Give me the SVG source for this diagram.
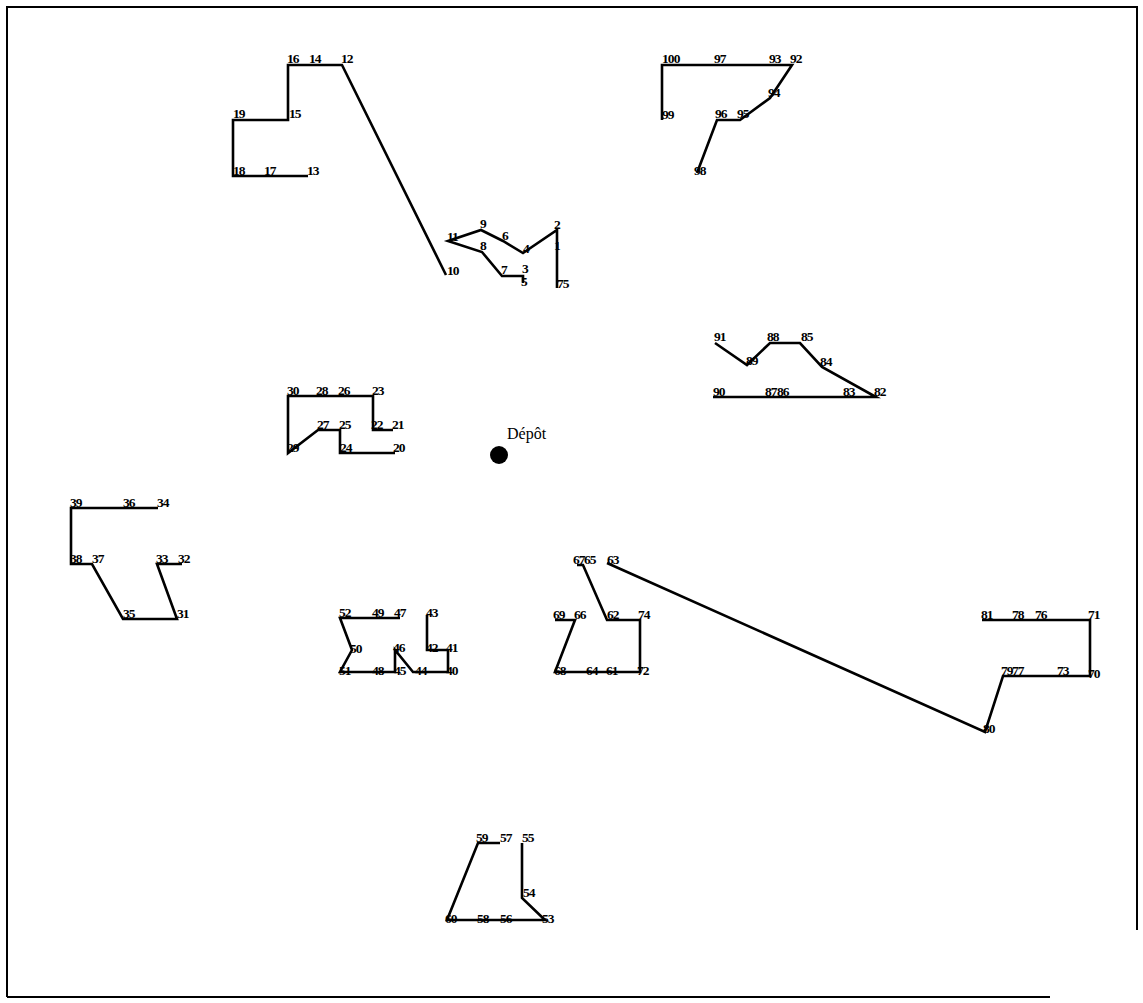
<svg xmlns="http://www.w3.org/2000/svg" width="1143" height="1003" viewBox="0 0 1143 1003">
<style>
.l{font-family:"Liberation Serif","DejaVu Serif",serif;font-size:13.5px;font-weight:bold;fill:#000;letter-spacing:-0.9px}
.r{fill:none;stroke:#000;stroke-width:2.6;stroke-linejoin:miter}
.dep{font-family:"Liberation Serif","DejaVu Serif",serif;font-size:16px;fill:#000}
.f{fill:none;stroke:#000;stroke-width:2}
</style>
<rect x="0" y="0" width="1143" height="1003" fill="#fff"/>
<g id="frame">
<polyline class="f" points="7,997 7,7 1137,7 1137,930"/>
<line class="f" x1="7" y1="997" x2="1050" y2="997"/>
</g>
<g id="connectors">
<polyline class="r" points="308,176 265,176 233,176 233,120 288,120 288,65 310,65 342,65 446,275"/>
<polyline class="r" points="523,283 523,276 502,276 482,252 448,241 481,230 503,241 523,253 557,230 557,248 557,288"/>
<polyline class="r" points="662,120 662,65 715,65 770,65 792,65 770,98 740,120 717,120 697,173"/>
<polyline class="r" points="715,343 747,365 770,343 800,343 822,367 876,397 845,397 777,397 767,397 713,397"/>
<polyline class="r" points="393,430 373,430 373,396 340,396 318,396 288,396 288,453 318,430 340,430 340,453 395,453"/>
<polyline class="r" points="182,564 157,564 177,619 123,619 92,564 71,564 71,508 125,508 158,508"/>
<polyline class="r" points="427,615 427,650 448,650 448,672 413,672 395,650 395,672 373,672 340,672 352,650 340,618 375,618 400,618"/>
<polyline class="r" points="555,620 575,620 555,672 588,672 607,672 640,672 640,620 607,620 583,565 577,565"/>
<polyline class="r" points="607,563 985,732 1003,676 1012,676 1058,676 1090,676 1090,620 1037,620 1013,620 982,620"/>
<polyline class="r" points="522,843 522,898 545,920 503,920 478,920 447,920 478,843 500,843"/>
</g>
<g id="depot"><circle cx="499" cy="455" r="9" fill="#000"/><text class="dep" x="507" y="439">Dépôt</text></g>
<g id="nodes">
<g id="n16"><text class="l" x="287" y="63">16</text></g>
<g id="n14"><text class="l" x="309" y="63">14</text></g>
<g id="n12"><text class="l" x="341" y="63">12</text></g>
<g id="n15"><text class="l" x="289" y="118">15</text></g>
<g id="n19"><text class="l" x="233" y="118">19</text></g>
<g id="n18"><text class="l" x="233" y="175">18</text></g>
<g id="n17"><text class="l" x="264" y="175">17</text></g>
<g id="n13"><text class="l" x="307" y="175">13</text></g>
<g id="n10"><text class="l" x="447" y="275">10</text></g>
<g id="n11"><text class="l" x="447" y="241">11</text></g>
<g id="n9"><text class="l" x="480" y="228">9</text></g>
<g id="n6"><text class="l" x="502" y="240">6</text></g>
<g id="n4"><text class="l" x="523" y="253">4</text></g>
<g id="n2"><text class="l" x="554" y="229">2</text></g>
<g id="n1"><text class="l" x="554" y="250">1</text></g>
<g id="n75"><text class="l" x="557" y="288">75</text></g>
<g id="n8"><text class="l" x="480" y="250">8</text></g>
<g id="n7"><text class="l" x="501" y="274">7</text></g>
<g id="n3"><text class="l" x="522" y="273">3</text></g>
<g id="n5"><text class="l" x="521" y="286">5</text></g>
<g id="n100"><text class="l" x="662" y="63">100</text></g>
<g id="n97"><text class="l" x="714" y="63">97</text></g>
<g id="n93"><text class="l" x="769" y="63">93</text></g>
<g id="n92"><text class="l" x="790" y="63">92</text></g>
<g id="n94"><text class="l" x="768" y="97">94</text></g>
<g id="n99"><text class="l" x="662" y="119">99</text></g>
<g id="n96"><text class="l" x="715" y="118">96</text></g>
<g id="n95"><text class="l" x="737" y="118">95</text></g>
<g id="n98"><text class="l" x="694" y="175">98</text></g>
<g id="n91"><text class="l" x="714" y="341">91</text></g>
<g id="n89"><text class="l" x="746" y="365">89</text></g>
<g id="n88"><text class="l" x="767" y="341">88</text></g>
<g id="n85"><text class="l" x="801" y="341">85</text></g>
<g id="n84"><text class="l" x="820" y="366">84</text></g>
<g id="n90"><text class="l" x="713" y="396">90</text></g>
<g id="n87"><text class="l" x="765" y="396">87</text></g>
<g id="n86"><text class="l" x="777" y="396">86</text></g>
<g id="n83"><text class="l" x="843" y="396">83</text></g>
<g id="n82"><text class="l" x="874" y="396">82</text></g>
<g id="n30"><text class="l" x="287" y="395">30</text></g>
<g id="n28"><text class="l" x="316" y="395">28</text></g>
<g id="n26"><text class="l" x="338" y="395">26</text></g>
<g id="n23"><text class="l" x="372" y="395">23</text></g>
<g id="n27"><text class="l" x="317" y="429">27</text></g>
<g id="n25"><text class="l" x="339" y="429">25</text></g>
<g id="n22"><text class="l" x="371" y="429">22</text></g>
<g id="n21"><text class="l" x="392" y="429">21</text></g>
<g id="n29"><text class="l" x="287" y="452">29</text></g>
<g id="n24"><text class="l" x="340" y="452">24</text></g>
<g id="n20"><text class="l" x="393" y="452">20</text></g>
<g id="n39"><text class="l" x="70" y="507">39</text></g>
<g id="n36"><text class="l" x="123" y="507">36</text></g>
<g id="n34"><text class="l" x="157" y="507">34</text></g>
<g id="n38"><text class="l" x="70" y="563">38</text></g>
<g id="n37"><text class="l" x="92" y="563">37</text></g>
<g id="n33"><text class="l" x="156" y="563">33</text></g>
<g id="n32"><text class="l" x="178" y="563">32</text></g>
<g id="n35"><text class="l" x="123" y="618">35</text></g>
<g id="n31"><text class="l" x="177" y="618">31</text></g>
<g id="n52"><text class="l" x="339" y="617">52</text></g>
<g id="n49"><text class="l" x="372" y="617">49</text></g>
<g id="n47"><text class="l" x="394" y="617">47</text></g>
<g id="n43"><text class="l" x="426" y="617">43</text></g>
<g id="n50"><text class="l" x="350" y="653">50</text></g>
<g id="n46"><text class="l" x="393" y="652">46</text></g>
<g id="n42"><text class="l" x="426" y="652">42</text></g>
<g id="n41"><text class="l" x="446" y="652">41</text></g>
<g id="n51"><text class="l" x="339" y="675">51</text></g>
<g id="n48"><text class="l" x="372" y="675">48</text></g>
<g id="n45"><text class="l" x="394" y="675">45</text></g>
<g id="n44"><text class="l" x="415" y="675">44</text></g>
<g id="n40"><text class="l" x="446" y="675">40</text></g>
<g id="n67"><text class="l" x="573" y="564">67</text></g>
<g id="n65"><text class="l" x="584" y="564">65</text></g>
<g id="n63"><text class="l" x="607" y="564">63</text></g>
<g id="n69"><text class="l" x="553" y="619">69</text></g>
<g id="n66"><text class="l" x="574" y="619">66</text></g>
<g id="n62"><text class="l" x="607" y="619">62</text></g>
<g id="n74"><text class="l" x="638" y="619">74</text></g>
<g id="n68"><text class="l" x="554" y="675">68</text></g>
<g id="n64"><text class="l" x="586" y="675">64</text></g>
<g id="n61"><text class="l" x="606" y="675">61</text></g>
<g id="n72"><text class="l" x="637" y="675">72</text></g>
<g id="n81"><text class="l" x="981" y="619">81</text></g>
<g id="n78"><text class="l" x="1012" y="619">78</text></g>
<g id="n76"><text class="l" x="1035" y="619">76</text></g>
<g id="n71"><text class="l" x="1088" y="619">71</text></g>
<g id="n79"><text class="l" x="1001" y="675">79</text></g>
<g id="n77"><text class="l" x="1012" y="675">77</text></g>
<g id="n73"><text class="l" x="1057" y="675">73</text></g>
<g id="n70"><text class="l" x="1088" y="678">70</text></g>
<g id="n80"><text class="l" x="983" y="733">80</text></g>
<g id="n59"><text class="l" x="476" y="842">59</text></g>
<g id="n57"><text class="l" x="500" y="842">57</text></g>
<g id="n55"><text class="l" x="522" y="842">55</text></g>
<g id="n54"><text class="l" x="523" y="897">54</text></g>
<g id="n60"><text class="l" x="445" y="923">60</text></g>
<g id="n58"><text class="l" x="477" y="923">58</text></g>
<g id="n56"><text class="l" x="500" y="923">56</text></g>
<g id="n53"><text class="l" x="542" y="923">53</text></g>
</g>
</svg>
